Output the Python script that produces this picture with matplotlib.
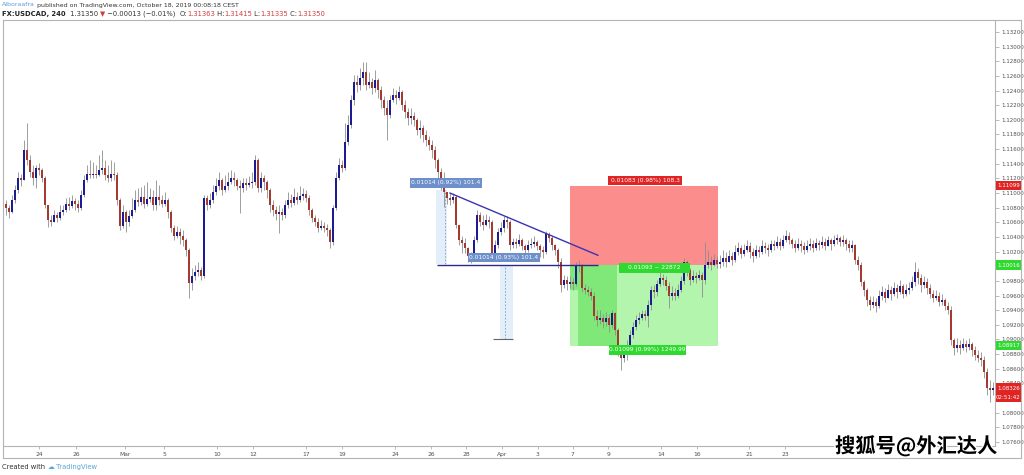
import numpy as np
import matplotlib.pyplot as plt
import matplotlib.patheffects as pe
from matplotlib.patches import Rectangle
from matplotlib.transforms import blended_transform_factory

# 4H candles, prices stored in pips above 1.0000 (1091 -> 1.1091)
PIP = 1e-4
first_open_pips = 1085
close_pips = [
    1080, 1074, 1091, 1104, 1121, 1118, 1159, 1145, 1129, 1121, 1134, 1131, 1121, 1084, 1063, 1060, 1070, 1066, 1074, 1077,
    1085, 1082, 1089, 1085, 1080, 1097, 1118, 1126, 1125, 1126, 1125, 1131, 1134, 1125, 1121, 1126, 1125, 1091, 1055, 1074,
    1060, 1069, 1077, 1091, 1088, 1095, 1085, 1092, 1095, 1084, 1095, 1091, 1085, 1091, 1074, 1052, 1041, 1047, 1041, 1036,
    1022, 977, 987, 992, 995, 987, 1093, 1084, 1091, 1101, 1110, 1118, 1104, 1110, 1115, 1121, 1118, 1110, 1107, 1114,
    1111, 1114, 1115, 1145, 1107, 1121, 1115, 1104, 1084, 1077, 1071, 1074, 1070, 1084, 1091, 1086, 1095, 1091, 1096, 1099,
    1093, 1077, 1066, 1060, 1052, 1055, 1052, 1050, 1033, 1080, 1121, 1138, 1134, 1170, 1193, 1227, 1252, 1248, 1257, 1265,
    1248, 1252, 1243, 1254, 1241, 1227, 1216, 1207, 1227, 1234, 1230, 1238, 1220, 1211, 1202, 1205, 1200, 1186, 1189, 1179,
    1172, 1166, 1159, 1145, 1129, 1115, 1101, 1093, 1091, 1095, 1056, 1036, 1032, 1025, 1014, 1011, 1036, 1070, 1060, 1056,
    1063, 1060, 1015, 1029, 1047, 1052, 1063, 1060, 1029, 1033, 1030, 1036, 1028, 1022, 1029, 1030, 1033, 1028, 1022, 1019,
    1044, 1039, 1029, 1022, 1006, 974, 981, 976, 979, 976, 1002, 1000, 970, 968, 965, 959, 932, 927, 929, 924,
    929, 920, 936, 913, 886, 875, 879, 892, 906, 917, 927, 929, 935, 932, 947, 968, 965, 976, 984, 981,
    973, 959, 963, 959, 968, 980, 1006, 995, 981, 987, 984, 988, 981, 1002, 1006, 1002, 1009, 1003, 1006, 1011,
    1006, 1014, 1009, 1019, 1025, 1017, 1022, 1028, 1019, 1014, 1022, 1019, 1028, 1025, 1022, 1030, 1028, 1033, 1028, 1036,
    1041, 1036, 1030, 1025, 1030, 1028, 1022, 1028, 1030, 1025, 1032, 1029, 1033, 1028, 1036, 1030, 1036, 1039, 1033, 1036,
    1030, 1025, 1029, 1009, 1002, 979, 968, 954, 947, 951, 946, 959, 965, 957, 968, 962, 970, 965, 973, 962,
    968, 970, 979, 992, 984, 974, 979, 970, 962, 957, 959, 951, 954, 946, 940, 899, 888, 892, 888, 894,
    890, 894, 886, 879, 875, 872, 856, 834, 831, 834,
]
high_pips = [
    1091, 1084, 1097, 1111, 1129, 1126, 1172, 1196, 1152, 1138, 1138, 1141, 1134, 1123, 1084, 1070, 1077, 1074, 1084, 1084,
    1093, 1095, 1097, 1093, 1091, 1104, 1125, 1138, 1145, 1142, 1138, 1152, 1159, 1145, 1138, 1145, 1142, 1129, 1093, 1084,
    1077, 1077, 1093, 1104, 1107, 1108, 1111, 1115, 1107, 1104, 1118, 1111, 1097, 1101, 1093, 1077, 1056, 1055, 1052, 1050,
    1039, 1025, 998, 1002, 1006, 999, 1097, 1097, 1100, 1111, 1121, 1129, 1121, 1125, 1129, 1131, 1129, 1121, 1118, 1121,
    1121, 1123, 1129, 1152, 1148, 1129, 1125, 1118, 1107, 1091, 1082, 1084, 1080, 1091, 1101, 1099, 1107, 1101, 1110, 1107,
    1104, 1097, 1080, 1070, 1066, 1063, 1060, 1058, 1052, 1084, 1129, 1148, 1145, 1196, 1207, 1234, 1261, 1261, 1271, 1279,
    1279, 1265, 1257, 1268, 1257, 1246, 1233, 1227, 1234, 1243, 1241, 1246, 1241, 1227, 1216, 1216, 1211, 1202, 1200, 1193,
    1186, 1178, 1172, 1164, 1148, 1134, 1129, 1101, 1100, 1100, 1097, 1056, 1041, 1039, 1026, 1019, 1041, 1077, 1074, 1070,
    1071, 1069, 1063, 1036, 1052, 1060, 1069, 1069, 1063, 1039, 1039, 1044, 1039, 1030, 1036, 1039, 1041, 1036, 1030, 1028,
    1048, 1047, 1041, 1030, 1025, 1011, 988, 987, 987, 984, 1006, 1009, 1003, 976, 973, 970, 965, 940, 940, 935,
    938, 935, 940, 938, 916, 892, 888, 899, 913, 924, 933, 938, 940, 940, 954, 973, 974, 981, 992, 989,
    987, 979, 973, 970, 976, 987, 1011, 1009, 998, 995, 992, 995, 992, 1033, 1022, 1014, 1017, 1014, 1015, 1022,
    1019, 1022, 1019, 1029, 1033, 1029, 1030, 1036, 1033, 1025, 1029, 1028, 1036, 1033, 1030, 1036, 1036, 1041, 1039, 1043,
    1050, 1047, 1039, 1036, 1039, 1036, 1033, 1036, 1039, 1036, 1039, 1036, 1041, 1039, 1041, 1039, 1043, 1044, 1041, 1043,
    1039, 1036, 1036, 1030, 1014, 1006, 981, 970, 959, 959, 957, 968, 973, 970, 976, 973, 979, 976, 981, 976,
    976, 979, 987, 1006, 998, 989, 987, 984, 976, 968, 968, 965, 962, 957, 951, 946, 902, 902, 899, 902,
    899, 902, 897, 891, 886, 883, 877, 861, 845, 842,
]
low_pips = [
    1070, 1066, 1073, 1086, 1100, 1110, 1121, 1138, 1122, 1111, 1107, 1125, 1115, 1080, 1054, 1055, 1060, 1060, 1063, 1070,
    1074, 1077, 1080, 1077, 1074, 1077, 1095, 1115, 1121, 1121, 1121, 1123, 1126, 1118, 1115, 1117, 1118, 1084, 1050, 1052,
    1047, 1055, 1066, 1074, 1082, 1084, 1080, 1082, 1088, 1077, 1077, 1084, 1081, 1082, 1066, 1047, 1036, 1039, 1030, 1028,
    1014, 957, 968, 981, 987, 981, 984, 1077, 1080, 1086, 1097, 1104, 1097, 1101, 1104, 1112, 1110, 1104, 1073, 1101,
    1104, 1108, 1107, 1111, 1101, 1101, 1104, 1093, 1074, 1069, 1063, 1045, 1063, 1066, 1080, 1081, 1084, 1085, 1088, 1091,
    1088, 1070, 1060, 1055, 1047, 1050, 1047, 1041, 1025, 1029, 1077, 1118, 1129, 1131, 1166, 1189, 1220, 1238, 1241, 1248,
    1241, 1243, 1235, 1238, 1230, 1216, 1207, 1172, 1202, 1224, 1222, 1227, 1213, 1202, 1193, 1194, 1192, 1179, 1175, 1170,
    1164, 1159, 1148, 1134, 1121, 1104, 1081, 1085, 1084, 1086, 1052, 1029, 1018, 1018, 1006, 1004, 1009, 1033, 1055, 1050,
    1055, 1052, 1011, 1013, 1025, 1043, 1047, 1052, 1022, 1025, 1025, 1028, 1022, 1017, 1019, 1025, 1026, 1022, 1013, 1011,
    1017, 1033, 1022, 1015, 998, 965, 970, 968, 970, 968, 973, 992, 965, 962, 959, 954, 927, 918, 921, 916,
    918, 910, 916, 906, 877, 858, 869, 872, 888, 902, 913, 921, 927, 927, 917, 940, 957, 959, 973, 974,
    968, 943, 954, 954, 957, 965, 976, 987, 974, 979, 977, 981, 958, 976, 998, 995, 1000, 998, 998, 1000,
    999, 1006, 1002, 1006, 1015, 1011, 1014, 1019, 1011, 1006, 1011, 1013, 1017, 1018, 1014, 1019, 1022, 1025, 1022, 1025,
    1033, 1030, 1025, 1019, 1022, 1019, 1017, 1019, 1022, 1019, 1022, 1022, 1025, 1022, 1028, 1022, 1028, 1030, 1028, 1028,
    1022, 1019, 1019, 1003, 995, 973, 959, 946, 940, 943, 938, 943, 954, 951, 957, 954, 959, 957, 962, 957,
    959, 962, 968, 973, 976, 965, 970, 962, 957, 951, 954, 946, 947, 940, 935, 892, 879, 883, 880, 886,
    883, 886, 877, 872, 869, 864, 847, 824, 815, 824,
]

# date labels on the time scale (position = bar index)
date_pos = [11, 23.3, 39.7, 52.7, 70.3, 82.3, 100, 112, 129.7, 141.7, 153.3, 165.3,
            177.3, 189, 200.7, 218.3, 230.3, 247.7, 259.7]
date_labels = ['24', '26', 'Mar', '5', '10', '12', '17', '19', '24', '26', '28', 'Apr',
               '3', '7', '9', '14', '16', '21', '23']

# short position tool
entry, stop, target = 1.10016, 1.11099, 1.08917
pos_x0, pos_x1, pos_active = 188, 237.3, 203.7
last_price = 1.08336

# trend lines and price ranges
tri_x, tri_y = [148, 197.3], [1.1100, 1.1015]
base_x, base_y = [143.7, 197.3], 1.1002
range1 = (143.3, 147.0, 1.1003, 1.1104)
range2 = (164.7, 169.0, 1.0901, 1.1002)

# drawing labels: (x0, x1, y0, y1, text, colour)
tool_labels = [
    (134.7, 158.7, 1.11069, 1.11206, '0.01014 (0.92%) 101.4', '#6d8fca'),
    (154.0, 178.0, 1.10058, 1.10181, '0.01014 (0.93%) 101.4', '#6d8fca'),
    (200.7, 225.3, 1.11110, 1.11233, '0.01083 (0.98%) 108.3', '#e02323'),
    (204.3, 228.0, 1.09908, 1.10045, '0.01093 ~ 22872', '#2fd92f'),
    (201.0, 226.7, 1.08788, 1.08925, '0.01099 (0.99%) 1249.99', '#2fd92f'),
]

UP, DOWN, WICK = '#1c1c92', '#a3392f', '#8e8e8e'

opens = np.array([first_open_pips] + close_pips[:-1]) * PIP + 1
close = np.array(close_pips) * PIP + 1
high = np.maximum(np.array(high_pips) * PIP + 1, np.maximum(opens, close))
low = np.minimum(np.array(low_pips) * PIP + 1, np.minimum(opens, close))
idx = np.arange(len(close))

fig = plt.figure(figsize=(10.24, 4.75), dpi=100)
ax = fig.add_axes([4 / 1024, 29 / 475, 991 / 1024, 425 / 475])
ax.set_xlim(-0.67, 329.67)
ax.set_ylim(1.07545, 1.13350)

# position tool boxes
ax.add_patch(Rectangle((pos_x0, entry), pos_x1 - pos_x0, stop - entry, fc='#fb8d8d', ec='none', zorder=1))
ax.add_patch(Rectangle((pos_x0, target), pos_x1 - pos_x0, entry - target, fc='#b4f5ae', ec='none', zorder=1))
ax.add_patch(Rectangle((pos_x0 + 2.7, target), pos_active - pos_x0 - 2.7, entry - target, fc='#80e878', ec='none', zorder=1))
ax.add_patch(Rectangle((pos_x0, 1.0968), 2.7, entry - 1.0968, fc='#80e878', ec='none', zorder=1))

# price range tools
for x0, x1, y0, y1 in (range1, range2):
    ax.add_patch(Rectangle((x0, y0), x1 - x0, y1 - y0, fc='#dceafa', ec='none', alpha=0.8, zorder=1))
ax.vlines(146.3, range1[2], range1[3], color='#8a9ab5', lw=0.6, ls=(0, (2, 2)), zorder=1.5)
ax.vlines(166.3, range2[2], range2[3], color='#8a9ab5', lw=0.6, ls=(0, (2, 2)), zorder=1.5)
ax.hlines(1.0900, 162.3, 169.0, color='#666666', lw=0.8, zorder=3)

# candles
ax.vlines(idx, low, high, color=WICK, lw=0.6, zorder=2)
body_lo = np.minimum(opens, close)
body_h = np.maximum(np.abs(close - opens), 0.00008)
up = close >= opens
ax.bar(idx[up], body_h[up], bottom=body_lo[up], width=0.72, color=UP, lw=0, zorder=2.2)
ax.bar(idx[~up], body_h[~up], bottom=body_lo[~up], width=0.72, color=DOWN, lw=0, zorder=2.2)

# descending triangle
ax.plot(tri_x, tri_y, color='#3a34b0', lw=1.0, zorder=3)
ax.hlines(base_y, base_x[0], base_x[1], color='#2a2a88', lw=1.0, zorder=3)

for x0, x1, y0, y1, s, c in tool_labels:
    ax.add_patch(Rectangle((x0, y0), x1 - x0, y1 - y0, fc=c, ec='none', zorder=4))
    ax.text((x0 + x1) / 2, (y0 + y1) / 2, s, fontsize=4.3, ha='center', va='center',
            color='white', zorder=5)

# axes styling
for s in ('top', 'left'):
    ax.spines[s].set_visible(False)
for s in ('bottom', 'right'):
    ax.spines[s].set_color('#b4b4b4')
    ax.spines[s].set_linewidth(0.8)
ax.yaxis.tick_right()
price_ticks = np.arange(1.076, 1.1325, 0.002)
tag_prices = [stop, entry, target, last_price, last_price - 0.00128]
ax.set_yticks(price_ticks)
# labels hidden under a price tag are left blank
ax.set_yticklabels(['' if min(abs(p - t) for t in tag_prices) < 0.0005 else f'{p:.5f}'
                    for p in price_ticks])
ax.tick_params(axis='y', length=3, width=0.5, color='#a0a0a0', labelsize=4.0,
               labelcolor='#505050', pad=1.5)
ax.set_xticks(date_pos)
ax.set_xticklabels(date_labels)
ax.tick_params(axis='x', length=2.5, width=0.5, color='#a0a0a0', labelsize=4.3,
               labelcolor='#505050', pad=2)

# price tags on the right scale
trans = blended_transform_factory(fig.transFigure, ax.transData)


def price_tag(price, text, color, dy=0.0):
    h = 0.00128
    fig.add_artist(Rectangle((996 / 1024, price - h / 2 - dy), 25 / 1024, h,
                             transform=trans, fc=color, ec='none'))
    fig.text(1008.5 / 1024, price - dy, text, transform=trans, ha='center', va='center',
             fontsize=4.0, color='white')


price_tag(stop, '1.11099', '#e02323')
price_tag(entry, '1.10016', '#2fd92f')
price_tag(target, '1.08917', '#2fd92f')
price_tag(last_price, '1.08326', '#e02323')
price_tag(last_price, '02:51:42', '#e02323', dy=0.00128)

# outer frame and time-scale box
frame = dict(color='#b4b4b4', lw=0.8)
fig.add_artist(plt.Line2D([3 / 1024, 1021 / 1024], [1 - 20 / 475] * 2, **frame))
fig.add_artist(plt.Line2D([3 / 1024, 1021 / 1024], [1 - 458 / 475] * 2, **frame))
fig.add_artist(plt.Line2D([3 / 1024] * 2, [1 - 20 / 475, 1 - 458 / 475], **frame))
fig.add_artist(plt.Line2D([1021 / 1024] * 2, [1 - 20 / 475, 1 - 458 / 475], **frame))

# header text, pieces laid out left to right
renderer = fig.canvas.get_renderer()


def text_row(x, y, pieces, size=4.9):
    for s, color, weight in pieces:
        t = fig.text(x / 1024, 1 - y / 475, s, fontsize=size, color=color,
                     fontweight=weight, va='center', ha='left')
        x += t.get_window_extent(renderer).width


RED = '#d23b3b'
text_row(2, 5, [('Alboraafra', '#5b9be0', 'normal'),
                (' published on TradingView.com, October 18, 2019 00:08:18 CEST', '#333333', 'normal')],
         size=4.5)
text_row(2, 14, [('FX:USDCAD, 240', '#222222', 'bold'),
                 ('  1.31350 ', '#333333', 'normal'), ('▼', RED, 'normal'),
                 (' \u22120.00013 (\u22120.01%)  ', '#333333', 'normal'),
                 ('O:', '#333333', 'normal'), ('1.31363', RED, 'normal'),
                 (' H:', '#333333', 'normal'), ('1.31415', RED, 'normal'),
                 (' L:', '#333333', 'normal'), ('1.31335', RED, 'normal'),
                 (' C:', '#333333', 'normal'), ('1.31350', RED, 'normal')])
text_row(2, 467, [('Created with ', '#333333', 'normal'), ('\u2601', '#58a6dc', 'normal'),
                  (' TradingView', '#58a6dc', 'normal')])

# watermark
fig.text(835 / 1024, 1 - 446 / 475, '搜狐号@外汇达人', fontsize=14.6, color='black',
         family=['Noto Sans CJK SC', 'DejaVu Sans'], fontweight='bold', va='center', ha='left',
         path_effects=[pe.withStroke(linewidth=2, foreground='white')])

fig.savefig('out.png', dpi=100, facecolor='white')
